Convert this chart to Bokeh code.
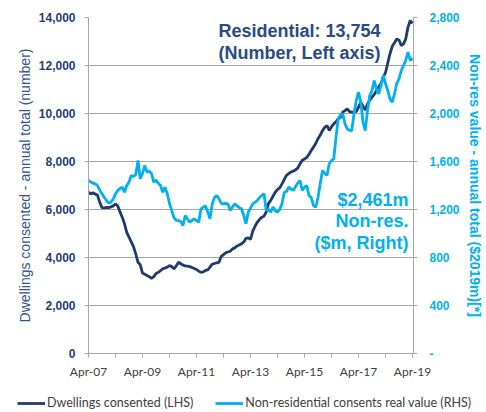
import numpy as np
import pandas as pd
from bokeh.plotting import figure
from bokeh.models import (Range1d, LinearAxis, FixedTicker, NumeralTickFormatter,
                          Label, Legend, LegendItem, ColumnDataSource)
from bokeh.embed import file_html
from bokeh.resources import INLINE

# ---------------- data (monthly, Apr-07 .. Apr-19) ----------------
dates = pd.date_range("2007-04-01", "2019-04-01", freq="MS")

dwellings = [
    6720, 6650, 6700, 6640, 6600, 6300, 6080, 6070, 6090, 6080, 6110, 6150,
    6230, 6150, 5900, 5680, 5400, 5050, 4850, 4650, 4450, 4150, 3800, 3700,
    3350, 3300, 3250, 3200, 3130, 3200, 3330, 3380, 3450, 3530, 3560, 3600,
    3660, 3620, 3530, 3650, 3800, 3740, 3680, 3650, 3640, 3620, 3580, 3540,
    3500, 3430, 3380, 3400, 3460, 3480, 3600, 3720, 3750, 3780, 3800, 4050,
    4120, 4200, 4230, 4260, 4360, 4400, 4480, 4520, 4570, 4650, 4800, 4820,
    4750, 5100, 5300, 5470, 5580, 5680, 5720, 5900, 6250, 6380, 6550, 6720,
    6830, 6900, 7070, 7250, 7420, 7500, 7560, 7600, 7650, 7720, 7900, 8050,
    8100, 8170, 8300, 8460, 8600, 8750, 8950, 9100, 9290, 9420, 9500, 9290,
    9450, 9570, 9650, 9780, 9850, 10060, 10120, 10190, 10080, 10060, 10060, 10080,
    10260, 10470, 10300, 10150, 10400, 10550, 10680, 10800, 10950, 11100, 11250, 11500,
    11700, 12100, 12490, 12800, 12950, 13100, 13060, 12830, 12900, 13100, 13600, 13875,
    13754,
]

nonres = [
    1442, 1430, 1420, 1414, 1400, 1360, 1331, 1300, 1275, 1253, 1260, 1289,
    1330, 1358, 1375, 1386, 1344, 1400, 1428, 1483, 1475, 1490, 1608, 1456,
    1500, 1567, 1511, 1520, 1500, 1428, 1445, 1420, 1400, 1344, 1386, 1331,
    1250, 1192, 1130, 1110, 1108, 1100, 1067, 1150, 1120, 1094, 1110, 1122,
    1108, 1094, 1206, 1219, 1230, 1180, 1122, 1247, 1300, 1317, 1289, 1250,
    1247, 1250, 1247, 1192, 1220, 1247, 1230, 1215, 1206, 1150, 1081, 1178,
    1210, 1247, 1260, 1275, 1300, 1317, 1331, 1192, 1200, 1178, 1220, 1190,
    1178, 1200, 1247, 1344, 1350, 1386, 1370, 1360, 1390, 1420, 1442, 1358,
    1386, 1400, 1317, 1300, 1233, 1219, 1300, 1414, 1525, 1500, 1483, 1581,
    1608, 1620, 1803, 1956, 1990, 1997, 1914, 1872, 1860, 1858, 1997, 2108,
    2178, 2100, 1928, 1858, 2025, 2150, 2192, 2275, 2200, 2164, 2233, 2317,
    2250, 2192, 2120, 2094, 2164, 2250, 2289, 2358, 2400, 2442, 2511, 2442,
    2461,
]

tick_labels = ["Apr-07", "Apr-09", "Apr-11", "Apr-13", "Apr-15", "Apr-17", "Apr-19"]
left_ticks = [0, 2000, 4000, 6000, 8000, 10000, 12000, 14000]
right_ticks = [0, 400, 800, 1200, 1600, 2000, 2400, 2800]

series_names = ["Dwellings consented (LHS)", "Non-residential consents real value (RHS)"]
res_note = ["Residential: 13,754", "(Number, Left axis)"]
nonres_note = ["$2,461m", "Non-res.", "($m, Right)"]
left_title = "Dwellings consented - annual total (number)"
right_title = "Non-res value - annual total ($2019m)[*]"

# ---------------- styles ----------------
DARK = "#1f3a6e"
LIGHT = "#00b0f0"
NAVY_TXT = "#1f3f7a"
NAVY_TITLE = "#2f5597"
GRID = "#a6a6a6"
GREY_TXT = "#404040"

month_idx = [(d.year - 2007) * 12 + d.month - 4 for d in dates]
src = ColumnDataSource(dict(x=month_idx, dw=dwellings, nr=nonres))

p = figure(width=486, height=388, output_backend="svg", toolbar_location=None,
           x_range=Range1d(0, 144.45), y_range=Range1d(0, 14000),
           min_border_left=88, min_border_right=73, min_border_top=17,
           min_border_bottom=35)
p.extra_y_ranges = {"right": Range1d(0, 2800)}
p.outline_line_color = None
p.background_fill_color = "white"
p.border_fill_color = "white"

# x axis
xa = p.xaxis[0]
year_ticks = list(range(0, 145, 12))
xa.ticker = FixedTicker(ticks=year_ticks)
overrides = {}
for i, t in enumerate(year_ticks):
    overrides[t] = tick_labels[i // 2] if i % 2 == 0 else ""
xa.major_label_overrides = overrides
xa.minor_tick_line_color = None
xa.major_tick_in = 0
xa.major_tick_out = 4
xa.major_tick_line_color = GRID
xa.axis_line_color = GRID
xa.major_label_standoff = 6
xa.major_label_text_font = "Lato"
xa.major_label_text_font_size = "12px"
xa.major_label_text_color = GREY_TXT

# left axis
ya = p.yaxis[0]
ya.ticker = FixedTicker(ticks=left_ticks)
ya.formatter = NumeralTickFormatter(format="0,0")
ya.minor_tick_line_color = None
ya.major_tick_in = 0
ya.major_tick_out = 4
ya.major_tick_line_color = GRID
ya.axis_line_color = GRID
ya.major_label_standoff = 9
ya.major_label_text_font = "Liberation Sans"
ya.major_label_text_font_style = "bold"
ya.major_label_text_font_size = "12px"
ya.major_label_text_color = NAVY_TXT
ya.axis_label = left_title
ya.axis_label_standoff = 3
ya.axis_label_text_font = "Liberation Sans"
ya.axis_label_text_font_style = "normal"
ya.axis_label_text_font_size = "14px"
ya.axis_label_text_color = NAVY_TITLE

# right axis
ra = LinearAxis(y_range_name="right", ticker=FixedTicker(ticks=right_ticks),
                formatter=NumeralTickFormatter(format="0,0"))
ra.major_label_overrides = {0: "-"}
ra.minor_tick_line_color = None
ra.major_tick_in = 0
ra.major_tick_out = 4
ra.major_tick_line_color = GRID
ra.axis_line_color = GRID
ra.major_label_standoff = 12
ra.major_label_text_font = "Liberation Sans"
ra.major_label_text_font_style = "bold"
ra.major_label_text_font_size = "12px"
ra.major_label_text_color = LIGHT
ra.axis_label = right_title
ra.axis_label_standoff = 4
ra.axis_label_text_font = "Liberation Sans"
ra.axis_label_text_font_style = "bold"
ra.axis_label_text_font_size = "14px"
ra.axis_label_text_color = LIGHT
p.add_layout(ra, "right")

p.xgrid.grid_line_color = None
p.ygrid.ticker = FixedTicker(ticks=left_ticks)
p.ygrid.grid_line_color = GRID
p.ygrid.grid_line_width = 1

r_dw = p.line("x", "dw", source=src, line_color=DARK, line_width=2.8)
r_nr = p.line("x", "nr", source=src, line_color=LIGHT, line_width=2.8, y_range_name="right")

# annotations (frame-relative screen coords)
for txt, yy in zip(res_note, [323, 301]):
    p.add_layout(Label(x=211, y=yy, x_units="screen", y_units="screen", text=txt,
                       text_align="center", text_baseline="middle",
                       text_font="Liberation Sans", text_font_style="bold",
                       text_font_size="18px", text_color="#2b4a85"))
for txt, yy in zip(nonres_note, [154, 133, 111]):
    p.add_layout(Label(x=320, y=yy, x_units="screen", y_units="screen", text=txt,
                       text_align="right", text_baseline="middle",
                       text_font="Liberation Sans", text_font_style="bold",
                       text_font_size="18px", text_color=LIGHT))

# ---------------- legend strip below the chart (separate root) ----------------
lf = figure(width=486, height=24, output_backend="svg", toolbar_location=None,
            x_range=Range1d(0, 1), y_range=Range1d(-2, -1),
            x_axis_location=None, y_axis_location=None,
            min_border_left=0, min_border_right=0, min_border_top=0,
            min_border_bottom=0)
lf.grid.visible = False
lf.outline_line_color = None
lf.border_fill_color = "white"
lf.background_fill_color = "white"
# same series (out of this strip's view) so the legend swatches carry their styles
leg_dw = lf.line("x", "dw", source=src, line_color=DARK, line_width=2.8)
leg_nr = lf.line("x", "nr", source=src, line_color=LIGHT, line_width=2.8)
legend = Legend(items=[LegendItem(label=series_names[0], renderers=[leg_dw]),
                       LegendItem(label=series_names[1], renderers=[leg_nr])],
                location=(17, 2), orientation="horizontal",
                glyph_width=28, glyph_height=12, label_height=14,
                label_standoff=2, spacing=22,
                padding=0, margin=0, border_line_color=None,
                background_fill_alpha=0,
                label_text_font="Lato", label_text_font_size="12.5px",
                label_text_color=GREY_TXT)
lf.add_layout(legend, "center")

open("out.html", "w").write(file_html((p, lf), INLINE))
